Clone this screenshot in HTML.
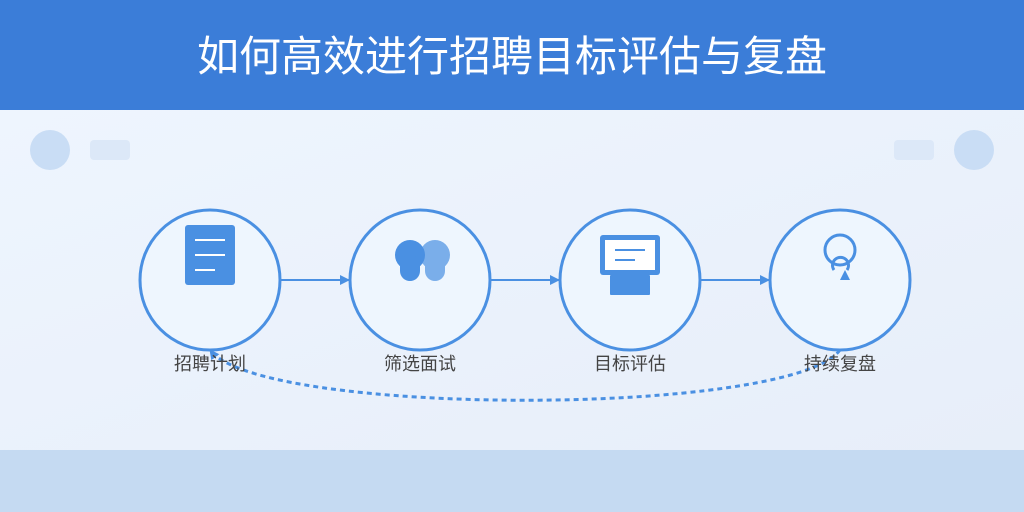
<!DOCTYPE html>
<html><head><meta charset="utf-8"><style>
html,body{margin:0;padding:0;width:1024px;height:512px;overflow:hidden}
</style></head><body>
<svg width="1024" height="512" viewBox="0 0 1024 512" xmlns="http://www.w3.org/2000/svg">
<defs>
<linearGradient id="bg" x1="0" y1="0" x2="1" y2="1">
<stop offset="0" stop-color="#eef5fe"/><stop offset="1" stop-color="#e7eef9"/>
</linearGradient>
<marker id="ar" viewBox="0 0 10 10" refX="9" refY="5" markerWidth="10" markerHeight="10" markerUnits="userSpaceOnUse" orient="auto">
<path d="M0,0 L10,5 L0,10 z" fill="#4a90e2"/></marker>
</defs>
<rect x="0" y="110" width="1024" height="340" fill="url(#bg)"/>
<rect x="0" y="0" width="1024" height="110" fill="#3b7dd8"/>
<rect x="0" y="450" width="1024" height="62" fill="#c5daf2"/>
<text x="512" y="71" text-anchor="middle" font-family="Liberation Sans, Noto Sans CJK SC, sans-serif" font-size="42" fill="#fff">如何高效进行招聘目标评估与复盘</text>
<circle cx="50" cy="150" r="20" fill="#c9ddf5"/>
<rect x="90" y="140" width="40" height="20" rx="4" fill="#dce8f8"/>
<circle cx="974" cy="150" r="20" fill="#c9ddf5"/>
<rect x="894" y="140" width="40" height="20" rx="4" fill="#dce8f8"/>
<g stroke="#4a90e2" stroke-width="2" fill="none">
<line x1="281" y1="280" x2="349" y2="280" marker-end="url(#ar)"/>
<line x1="491" y1="280" x2="559" y2="280" marker-end="url(#ar)"/>
<line x1="701" y1="280" x2="769" y2="280" marker-end="url(#ar)"/>
<path d="M840,350 C790,417 260,417 210,350" stroke-width="3" stroke-dasharray="5,4" marker-end="url(#ar)"/>
</g>
<g fill="#eef6fe" stroke="#4a90e2" stroke-width="3">
<circle cx="210" cy="280" r="70"/><circle cx="420" cy="280" r="70"/>
<circle cx="630" cy="280" r="70"/><circle cx="840" cy="280" r="70"/>
</g>
<rect x="185" y="225" width="50" height="60" rx="3" fill="#4a90e2"/>
<g stroke="#fff" stroke-width="2"><line x1="195" y1="240" x2="225" y2="240"/><line x1="195" y1="255" x2="225" y2="255"/><line x1="195" y1="270" x2="215" y2="270"/></g>
<g fill="#4a90e2">
<circle cx="410" cy="255" r="15"/><rect x="400" y="255" width="20" height="26" rx="10"/>
<g opacity="0.7"><circle cx="435" cy="255" r="15"/><rect x="425" y="255" width="20" height="26" rx="10"/></g>
<rect x="600" y="235" width="60" height="40" rx="3"/>
<rect x="610" y="275" width="40" height="20" rx="1"/>
</g>
<rect x="605" y="240" width="50" height="30" fill="#fff"/>
<g stroke="#4a90e2" stroke-width="2"><line x1="615" y1="250" x2="645" y2="250"/><line x1="615" y1="260" x2="635" y2="260"/></g>
<g stroke="#4a90e2" stroke-width="3" fill="none">
<circle cx="840" cy="250" r="15"/>
<path d="M834,270 A8,8 0 1 1 847,270"/>
</g>
<path d="M845,270 L850,280 L840,280 z" fill="#4a90e2"/>
<g font-family="Liberation Sans, Noto Sans CJK SC, sans-serif" font-size="18" fill="#444" text-anchor="middle">
<text x="210" y="370">招聘计划</text><text x="420" y="370">筛选面试</text>
<text x="630" y="370">目标评估</text><text x="840" y="370">持续复盘</text>
</g>
</svg>
</body></html>
